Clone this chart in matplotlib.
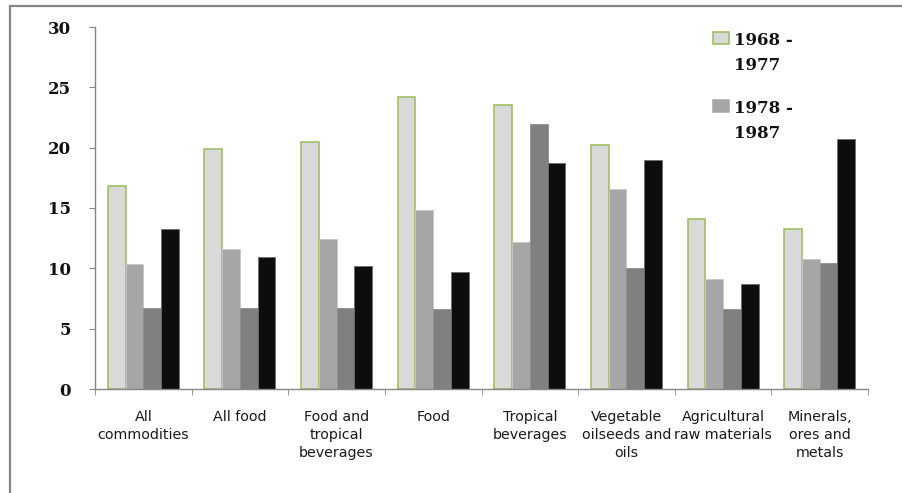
import numpy as np
import matplotlib
matplotlib.use('Agg')
import matplotlib.pyplot as plt
from matplotlib.patches import Rectangle
from matplotlib.lines import Line2D

# カテゴリと系列データ
categories = ['All\ncommodities', 'All food', 'Food and\ntropical\nbeverages', 'Food',
              'Tropical\nbeverages', 'Vegetable\noilseeds and\noils',
              'Agricultural\nraw materials', 'Minerals,\nores and\nmetals']
series_1 = [16.8, 19.9, 20.5, 24.2, 23.5, 20.2, 14.1, 13.3]
series_2 = [10.4, 11.6, 12.45, 14.8, 12.15, 16.6, 9.15, 10.75]
series_3 = [6.7, 6.7, 6.7, 6.6, 22.0, 10.0, 6.6, 10.45]
series_4 = [13.3, 10.9, 10.2, 9.7, 18.75, 18.95, 8.7, 20.75]
legend_labels = ['1968 -\n1977', '1978 -\n1987']
y_ticks = [0, 5, 10, 15, 20, 25, 30]

series = [series_1, series_2, series_3, series_4]
fills = ['#D9D9D9', '#A6A6A6', '#808080', '#0D0D0D']
edges = ['#9BBB59', '#C8C8C8', '#8C8C8C', '#6E6E6E']
lws = [1.1, 0.6, 0.6, 0.6]

W, H = 902, 493
fig = plt.figure(figsize=(W / 100, H / 100), dpi=100)
ax = fig.add_axes([95 / W, 1 - 389 / H, (868 - 95) / W, (389 - 27) / H])

x = np.arange(len(categories)) + 0.5
bw = 0.184
for k, vals in enumerate(series):
    ax.bar(x + (k - 1.5) * bw, vals, bw, color=fills[k], edgecolor=edges[k],
           linewidth=lws[k], zorder=2)

ax.set_xlim(0, len(categories))
ax.set_ylim(0, 30)
ax.set_yticks(y_ticks)
ax.set_yticklabels([str(v) for v in y_ticks], family='DejaVu Serif',
                   fontweight='bold', fontsize=12, color='#111111')

# カテゴリ名は中央、目盛りは境界に
ax.set_xticks(x)
ax.set_xticklabels(categories, family='DejaVu Sans', fontsize=10.3,
                   color='#1a1a1a', linespacing=1.35)
ax.set_xticks(np.arange(len(categories) + 1), minor=True)
ax.tick_params(axis='x', which='major', length=0, pad=15)
ax.tick_params(axis='x', which='minor', length=4.5, color='#868686', direction='out')
ax.tick_params(axis='y', length=4.5, color='#868686', direction='out', pad=13)

for s in ['top', 'right']:
    ax.spines[s].set_visible(False)
for s in ['left', 'bottom']:
    ax.spines[s].set_color('#868686')
    ax.spines[s].set_linewidth(1.0)

# 凡例（上の2系列のみ）
legend_y = [32, 100]
for i, lab in enumerate(legend_labels):
    y0 = legend_y[i]
    fig.patches.append(Rectangle((713 / W, 1 - (y0 + 12) / H), 16 / W, 12 / H,
                                 transform=fig.transFigure, facecolor=fills[i],
                                 edgecolor=edges[i] if i == 0 else fills[i],
                                 linewidth=1.1))
    for j, line in enumerate(lab.split('\n')):
        fig.text(734 / W, 1 - (y0 + 13 + 25 * j) / H, line, family='DejaVu Serif',
                 fontweight='bold', fontsize=12, color='#111111',
                 va='baseline', ha='left')

# 枠線（上と左）
fig.lines.append(Line2D([9.5 / W, 1], [1 - 5.5 / H, 1 - 5.5 / H],
                        transform=fig.transFigure, color='#868686', linewidth=1.6))
fig.lines.append(Line2D([9.5 / W, 9.5 / W], [0, 1 - 5.5 / H],
                        transform=fig.transFigure, color='#868686', linewidth=1.6))

fig.savefig('out.png', dpi=100, facecolor='white')
